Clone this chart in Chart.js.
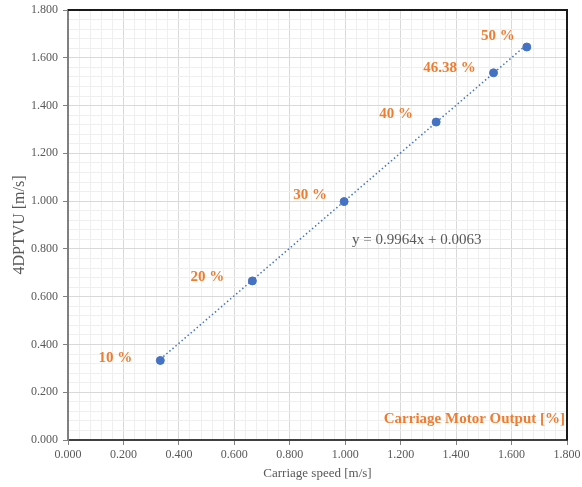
<!DOCTYPE html>
<html>
<head>
<meta charset="utf-8">
<script src="https://cdn.jsdelivr.net/npm/chart.js@4.4.1/dist/chart.umd.min.js"></script>
<style>
  body { margin: 0; background: #fff; }
  canvas { display: block; }
</style>
</head>
<body>
<canvas id="grafico" width="582" height="487"></canvas>
<script>
// medições: velocidade do carro x velocidade 4DPTVU
const velCarro = [0.333, 0.665, 0.996, 1.328, 1.535, 1.655];
const velPTV = [0.333, 0.666, 0.998, 1.331, 1.537, 1.645];
const potencia = ['10 %', '20 %', '30 %', '40 %', '46.38 %', '50 %'];

// reta de tendência (linear)
const inclinacao = 0.9964;
const intercepto = 0.0063;
const textoEq = 'y = 0.9964x + 0.0063';

// deslocamento dos rótulos em px (relativo ao ponto)
const desloc = [[-45, -2], [-45, -4], [-34, -6], [-40, -8], [-44, -5], [-29, -11]];

const laranja = '#ED7D31', azul = '#4472C4', cinza = '#595959';
const serif = '"Liberation Serif", "Times New Roman", serif';

let pontos = velCarro.map((x, i) => ({ x: x, y: velPTV[i] }));
let xMin = Math.min(...velCarro), xMax = Math.max(...velCarro);
let tendencia = [
  { x: xMin, y: inclinacao * xMin + intercepto },
  { x: xMax, y: inclinacao * xMax + intercepto }
];

function ehMaior(v) {
  return Math.abs(v / 0.2 - Math.round(v / 0.2)) < 1e-6;
}

// textos extras: rótulos dos pontos, equação e legenda da potência
const textos = {
  id: 'textos',
  afterDatasetsDraw(chart) {
    const ctx = chart.ctx, meta = chart.getDatasetMeta(1), area = chart.chartArea;
    ctx.save();
    ctx.font = 'bold 15px ' + serif;
    ctx.fillStyle = laranja;
    ctx.textAlign = 'center';
    ctx.textBaseline = 'middle';
    meta.data.forEach((p, i) => {
      ctx.fillText(potencia[i], p.x + desloc[i][0], p.y + desloc[i][1]);
    });
    ctx.textAlign = 'right';
    ctx.fillText('Carriage Motor Output [%]', area.right - 2, area.bottom - 21);
    ctx.font = '15px ' + serif;
    ctx.fillStyle = cinza;
    ctx.textAlign = 'left';
    ctx.fillText(textoEq, 352, 240);
    // moldura
    ctx.strokeStyle = '#1a1a1a';
    ctx.lineWidth = 2;
    ctx.beginPath();
    ctx.moveTo(area.left, area.top);
    ctx.lineTo(area.right, area.top);
    ctx.lineTo(area.right, area.bottom);
    ctx.stroke();
    ctx.restore();
  }
};

new Chart(document.getElementById('grafico'), {
  type: 'scatter',
  data: {
    datasets: [{
      type: 'line',
      data: tendencia,
      borderColor: azul,
      borderWidth: 1.5,
      borderDash: [1.5, 2.5],
      pointRadius: 0,
      fill: false
    }, {
      data: pontos,
      backgroundColor: azul,
      borderColor: azul,
      pointRadius: 4,
      pointHoverRadius: 4
    }]
  },
  options: {
    responsive: false,
    animation: false,
    layout: { padding: { left: 0, right: 15, top: 10, bottom: 0 } },
    plugins: { legend: { display: false }, tooltip: { enabled: false } },
    scales: {
      x: {
        type: 'linear',
        min: 0, max: 1.8,
        afterFit(s) { s.height = 47; s.paddingLeft = 0; s.paddingRight = 0; },
        ticks: {
          stepSize: 0.04, autoSkip: false, maxRotation: 0, padding: 3,
          color: cinza, font: { family: serif, size: 12 },
          callback: v => ehMaior(v) ? v.toFixed(3) : ''
        },
        grid: {
          color: c => ehMaior(c.tick.value) ? '#d9d9d9' : '#efefef',
          tickColor: c => ehMaior(c.tick.value) ? '#808080' : 'rgba(0,0,0,0)',
          tickLength: 5
        },
        border: { color: '#404040', width: 2 },
        title: {
          display: true, text: 'Carriage speed [m/s]', color: cinza,
          font: { family: serif, size: 13 }, padding: { top: 2, bottom: 6 }
        }
      },
      y: {
        type: 'linear',
        min: 0, max: 1.8,
        afterFit(s) { s.width = 68; s.paddingTop = 0; s.paddingBottom = 0; },
        ticks: {
          stepSize: 0.04, autoSkip: false, padding: 5,
          color: cinza, font: { family: serif, size: 12 },
          callback: v => ehMaior(v) ? v.toFixed(3) : ''
        },
        grid: {
          color: c => ehMaior(c.tick.value) ? '#d9d9d9' : '#efefef',
          tickColor: c => ehMaior(c.tick.value) ? '#808080' : 'rgba(0,0,0,0)',
          tickLength: 5
        },
        border: { color: '#808080', width: 2 },
        title: {
          display: true, text: '4DPTVU [m/s]', color: cinza,
          font: { family: serif, size: 16 }, padding: { top: 10, bottom: 2 }
        }
      }
    }
  },
  plugins: [textos]
});
</script>
</body>
</html>
